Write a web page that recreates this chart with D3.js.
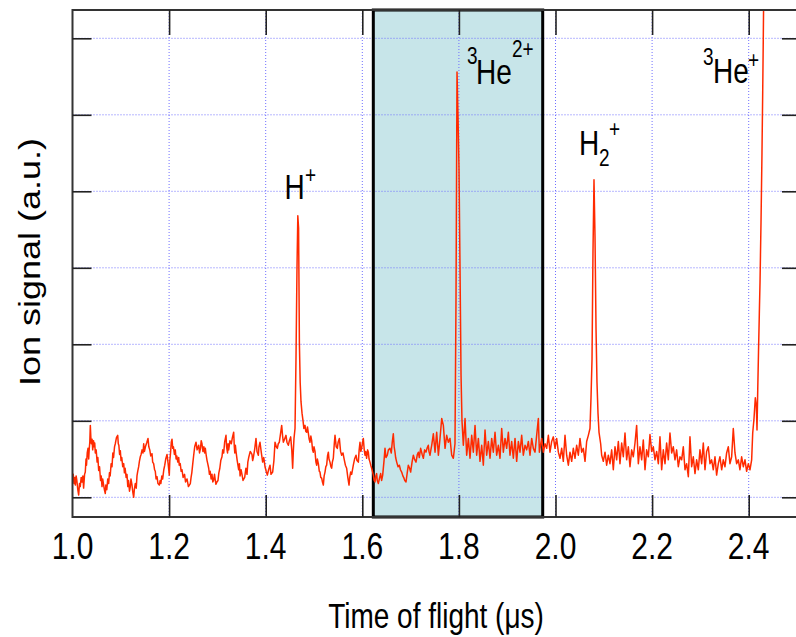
<!DOCTYPE html>
<html>
<head>
<meta charset="utf-8">
<script src="https://cdn.jsdelivr.net/npm/d3@7"></script>
<style>
  html, body { margin: 0; padding: 0; background: #fff; }
  text { font-family: "Liberation Sans", Arial, Helvetica, sans-serif; fill: #000; }
</style>
</head>
<body>
<svg id="chart" width="796" height="637"></svg>
<script>
// Time-of-flight spectrum: [time (µs), ion signal (a.u.)]
const trace = [
  [1.000,0.25],[1.0015,0.30],[1.003,0.18],[1.0045,0.26],[1.0058,0.16],[1.0075,0.28],[1.009,0.22],[1.011,0.10],
  [1.0128,0.03],[1.0145,0.18],[1.016,0.14],[1.018,0.26],[1.0197,0.20],[1.0215,0.28],[1.023,0.12],[1.025,0.30],
  [1.0265,0.33],[1.028,0.50],[1.029,0.42],[1.0305,0.58],[1.0321,0.64],[1.0335,0.50],[1.0345,0.62],[1.0358,0.72],
  [1.0369,0.94],[1.038,0.78],[1.039,0.70],[1.0405,0.76],[1.0418,0.62],[1.0435,0.74],[1.045,0.66],[1.046,0.71],
  [1.0472,0.58],[1.049,0.62],[1.051,0.46],[1.0525,0.52],[1.0542,0.35],[1.056,0.40],[1.058,0.22],[1.0595,0.28],
  [1.0611,0.14],[1.0625,0.24],[1.064,0.18],[1.066,0.10],[1.0679,0.05],[1.069,0.16],[1.071,0.10],[1.073,0.24],
  [1.0749,0.18],[1.0765,0.32],[1.078,0.28],[1.080,0.44],[1.0818,0.40],[1.0835,0.58],[1.085,0.52],[1.087,0.66],
  [1.0886,0.70],[1.091,0.78],[1.0936,0.81],[1.0948,0.70],[1.096,0.68],[1.0975,0.56],[1.099,0.61],[1.1005,0.48],
  [1.102,0.52],[1.104,0.40],[1.106,0.44],[1.1075,0.32],[1.109,0.38],[1.111,0.26],[1.1128,0.30],[1.1145,0.14],
  [1.116,0.22],[1.118,0.08],[1.1197,0.14],[1.121,0.24],[1.123,0.17],[1.125,0.06],[1.1267,0.00],[1.128,0.10],
  [1.130,0.18],[1.132,0.12],[1.1335,0.28],[1.135,0.34],[1.137,0.40],[1.1385,0.47],[1.1404,0.53],[1.142,0.56],
  [1.144,0.62],[1.146,0.58],[1.1474,0.70],[1.149,0.60],[1.151,0.66],[1.154,0.72],[1.1563,0.77],[1.158,0.66],
  [1.160,0.62],[1.162,0.54],[1.1646,0.57],[1.166,0.46],[1.168,0.44],[1.170,0.36],[1.1714,0.34],[1.173,0.24],
  [1.175,0.27],[1.177,0.18],[1.1797,0.16],[1.1815,0.22],[1.183,0.18],[1.185,0.28],[1.1867,0.24],[1.189,0.36],
  [1.191,0.42],[1.193,0.50],[1.1957,0.56],[1.198,0.44],[1.2004,0.29],[1.2015,0.48],[1.203,0.58],[1.2045,0.72],
  [1.206,0.76],[1.2075,0.64],[1.209,0.66],[1.211,0.56],[1.2128,0.62],[1.2145,0.50],[1.216,0.54],[1.218,0.46],
  [1.2199,0.52],[1.221,0.42],[1.223,0.44],[1.225,0.34],[1.2267,0.36],[1.229,0.26],[1.232,0.30],[1.234,0.20],
  [1.2371,0.24],[1.240,0.14],[1.2439,0.18],[1.2455,0.26],[1.247,0.32],[1.249,0.44],[1.2509,0.55],[1.253,0.66],
  [1.2557,0.72],[1.258,0.62],[1.2613,0.68],[1.263,0.58],[1.265,0.64],[1.2665,0.74],[1.2681,0.70],[1.270,0.60],
  [1.272,0.66],[1.2735,0.58],[1.275,0.64],[1.277,0.54],[1.2786,0.48],[1.280,0.44],[1.282,0.38],[1.2835,0.30],
  [1.285,0.34],[1.287,0.24],[1.2888,0.30],[1.2905,0.20],[1.292,0.22],[1.294,0.30],[1.2957,0.22],[1.297,0.17],
  [1.299,0.20],[1.3012,0.22],[1.303,0.32],[1.305,0.38],[1.307,0.48],[1.3095,0.53],[1.311,0.62],[1.313,0.58],
  [1.315,0.72],[1.3178,0.81],[1.319,0.66],[1.321,0.58],[1.322,0.70],[1.3234,0.62],[1.326,0.74],[1.3288,0.70],
  [1.331,0.78],[1.3337,0.85],[1.335,0.66],[1.336,0.58],[1.3372,0.68],[1.3385,0.60],[1.341,0.48],[1.3441,0.36],
  [1.3455,0.44],[1.347,0.28],[1.349,0.36],[1.3509,0.30],[1.353,0.22],[1.3565,0.26],[1.359,0.38],[1.3613,0.30],
  [1.363,0.46],[1.3648,0.52],[1.368,0.60],[1.3716,0.56],
  [1.373,0.48],[1.3744,0.52],[1.377,0.62],[1.3799,0.77],[1.382,0.60],[1.3848,0.55],[1.386,0.66],[1.3882,0.72],
  [1.391,0.58],[1.3937,0.46],[1.396,0.52],[1.3986,0.40],[1.401,0.34],[1.4034,0.29],[1.406,0.36],[1.4089,0.42],
  [1.411,0.30],[1.4144,0.33],[1.417,0.48],[1.4193,0.72],[1.422,0.66],[1.4241,0.64],[1.426,0.70],[1.4282,0.72],
  [1.430,0.80],[1.4331,0.94],[1.435,0.80],[1.4365,0.72],[1.439,0.76],[1.442,0.81],[1.444,0.72],[1.4469,0.68],
  [1.449,0.74],[1.4517,0.79],[1.454,0.62],[1.4558,0.38],[1.4572,0.60],[1.4586,0.77],
  // H+ peak
  [1.4607,0.90],[1.4627,1.80],[1.4648,3.00],[1.4665,3.68],[1.4681,3.52],[1.4698,2.00],[1.4714,1.50],[1.4731,1.25],
  [1.4752,1.10],[1.4773,1.00],
  [1.479,0.90],[1.4814,0.94],[1.483,0.86],[1.4848,0.85],[1.4865,0.92],[1.4883,0.84],[1.490,0.76],[1.4917,0.72],
  [1.4935,0.80],[1.4952,0.74],[1.497,0.62],[1.4986,0.59],[1.500,0.66],[1.5021,0.60],[1.504,0.46],[1.5055,0.42],
  [1.507,0.50],[1.5090,0.44],[1.511,0.34],[1.5124,0.33],[1.514,0.26],[1.5159,0.25],[1.5175,0.20],[1.5193,0.16],
  [1.521,0.28],[1.5228,0.33],[1.5245,0.40],[1.5262,0.42],[1.528,0.54],[1.5297,0.59],[1.531,0.50],[1.5331,0.46],
  [1.535,0.40],[1.5366,0.38],[1.538,0.46],[1.5400,0.51],[1.542,0.70],[1.5435,0.81],[1.546,0.66],[1.5483,0.64],
  [1.550,0.72],[1.5525,0.77],[1.555,0.60],[1.5573,0.55],[1.560,0.58],[1.5621,0.51],[1.565,0.42],[1.5676,0.38],
  [1.570,0.26],[1.5725,0.16],[1.574,0.26],[1.5759,0.33],[1.578,0.30],[1.5814,0.42],[1.584,0.50],[1.5870,0.55],
  [1.589,0.48],[1.5918,0.46],[1.5935,0.62],[1.5952,0.72],[1.597,0.60],[1.5987,0.64],[1.600,0.70],[1.6021,0.77],
  [1.604,0.62],[1.6056,0.55],[1.607,0.60],[1.6090,0.51],[1.611,0.62],[1.6125,0.59],[1.614,0.50],[1.6159,0.46],
  [1.6175,0.42],[1.6194,0.38],[1.621,0.34],[1.6228,0.29],[1.6245,0.22],[1.6263,0.20],[1.628,0.28],[1.6297,0.31],
  [1.631,0.22],[1.6332,0.18],[1.636,0.26],[1.6380,0.31],[1.640,0.22],[1.6422,0.29],[1.645,0.48],[1.6470,0.64],
  [1.649,0.52],[1.6518,0.55],[1.654,0.62],[1.6573,0.64],[1.660,0.58],[1.662,0.72],[1.6642,0.83],[1.666,0.66],
  [1.6677,0.59],[1.669,0.52],[1.6712,0.46],[1.674,0.40],[1.6767,0.42],[1.679,0.36],[1.6815,0.33],[1.684,0.28],
  [1.6863,0.25],[1.688,0.22],[1.6905,0.20],[1.693,0.32],[1.6953,0.42],[1.698,0.38],[1.7001,0.33],[1.703,0.46],
  [1.7057,0.55],[1.708,0.50],[1.7112,0.46],[1.714,0.56],[1.7160,0.59],[1.718,0.52],[1.7208,0.64],[1.724,0.56],
  [1.7264,0.51],[1.729,0.62],[1.7319,0.59],[1.734,0.64],[1.7367,0.68],[1.738,0.60],[1.7402,0.55],[1.742,0.62],
  [1.7437,0.68],[1.7471,0.83],[1.7506,0.59],[1.7540,0.85],[1.7575,0.55],[1.7609,0.77],[1.7644,1.03],[1.7678,0.94],
  [1.7713,0.64],[1.7747,0.81],[1.7782,0.72],[1.7816,0.77],[1.7851,0.55],[1.7885,0.51],[1.7919,0.70],
  // 3He2+ peak
  [1.7940,2.60],[1.7961,5.56],[1.7981,5.00],[1.8002,4.30],[1.8023,3.00],[1.8044,1.60],[1.8064,1.00],
  [1.8092,0.68],[1.8127,1.03],[1.8161,0.55],[1.8196,0.77],[1.8230,0.51],[1.8265,0.81],[1.8299,0.59],[1.8334,0.94],
  [1.8368,0.55],[1.8403,0.77],[1.8437,0.47],[1.8472,0.68],[1.8506,0.42],[1.8541,0.88],[1.8575,0.55],[1.8610,0.73],
  [1.8644,0.51],[1.8679,0.77],[1.8713,0.59],[1.8748,0.85],[1.8782,0.55],[1.8817,0.68],[1.8851,0.51],[1.8886,0.90],
  [1.8920,0.59],[1.8955,0.77],[1.8989,0.64],[1.9024,0.85],[1.9058,0.55],[1.9093,0.73],[1.9127,0.51],[1.9162,0.77],
  [1.9196,0.47],[1.9231,0.73],[1.9265,0.59],[1.9300,0.81],[1.9334,0.55],[1.9369,0.68],[1.9403,0.62],[1.9438,0.73],
  [1.9472,0.55],[1.9507,0.77],[1.9541,0.64],[1.9576,0.59],[1.9610,0.81],[1.9645,1.03],[1.9666,0.59],[1.9714,0.77],
  [1.9748,0.59],[1.9783,0.70],[1.9817,0.64],[1.9852,0.81],[1.9886,0.59],[1.9921,0.73],[1.9955,0.79],[1.9990,0.64],
  [2.0024,0.77],[2.0059,0.59],[2.0093,0.51],[2.0128,0.64],[2.0162,0.47],[2.0197,0.81],[2.0231,0.55],[2.0266,0.42],
  [2.0300,0.59],[2.0335,0.47],[2.0369,0.64],[2.0404,0.51],[2.0438,0.68],[2.0473,0.55],[2.0507,0.77],[2.0542,0.59],
  [2.0576,0.64],[2.0611,0.47],[2.0645,0.73],[2.0680,0.81],[2.0714,0.90],
  // H2+ peak
  [2.0735,1.30],[2.0756,1.80],[2.0776,3.20],[2.0797,4.15],[2.0818,3.40],[2.0839,2.20],[2.0859,1.50],[2.0880,1.10],
  [2.0901,0.85],[2.0935,0.70],[2.0956,0.55],[2.0990,0.47],[2.1025,0.59],[2.1059,0.42],[2.1094,0.55],
  [2.1128,0.44],[2.1163,0.62],[2.1197,0.36],[2.1232,0.66],[2.1266,0.49],[2.1301,0.73],[2.1335,0.44],[2.1370,0.71],
  [2.1404,0.53],[2.1439,0.84],[2.1473,0.49],[2.1508,0.66],[2.1542,0.40],[2.1577,0.62],[2.1611,0.53],[2.1646,0.71],
  [2.1680,0.94],[2.1715,0.44],[2.1749,0.66],[2.1784,0.49],[2.1818,0.75],[2.1853,0.36],[2.1887,0.62],[2.1922,0.53],
  [2.1956,0.82],[2.1991,0.60],[2.2025,0.66],[2.2060,0.49],[2.2094,0.60],[2.2129,0.44],[2.2163,0.79],[2.2198,0.36],
  [2.2232,0.62],[2.2267,0.44],[2.2301,0.71],[2.2336,0.49],[2.2370,0.84],[2.2405,0.58],[2.2439,0.66],[2.2474,0.49],
  [2.2508,0.62],[2.2543,0.40],[2.2577,0.53],[2.2612,0.49],[2.2646,0.66],[2.2681,0.36],[2.2715,0.44],[2.2750,0.27],
  [2.2784,0.79],[2.2819,0.40],[2.2853,0.53],[2.2888,0.31],[2.2922,0.49],[2.2957,0.36],[2.2991,0.62],[2.3026,0.44],
  [2.3060,0.71],[2.3095,0.36],[2.3129,0.60],[2.3164,0.66],[2.3198,0.44],[2.3233,0.49],[2.3267,0.36],[2.3302,0.53],
  [2.3336,0.29],[2.3371,0.44],[2.3405,0.53],[2.3440,0.36],[2.3474,0.49],[2.3509,0.40],[2.3543,0.58],[2.3578,0.66],
  [2.3612,0.44],[2.3647,0.53],[2.3681,0.90],[2.3716,0.58],[2.3750,0.44],[2.3785,0.49],[2.3819,0.36],[2.3854,0.53],
  [2.3888,0.40],[2.3923,0.49],[2.3957,0.34],[2.3992,0.44],[2.4026,0.36],[2.4061,0.49],
  // 3He+ peak (rises beyond the plotted range)
  [2.4083,0.84],[2.4110,1.03],[2.4137,1.30],[2.4158,1.20],[2.4172,0.88],[2.4187,1.40],[2.4203,1.90],[2.4220,2.40],
  [2.4234,2.80],[2.4255,3.60],[2.4275,4.50],[2.4290,5.30],[2.4302,6.00],[2.4317,7.00]
];

const xTickValues = [1.0, 1.2, 1.4, 1.6, 1.8, 2.0, 2.2, 2.4];
const xTickLabels = ["1.0", "1.2", "1.4", "1.6", "1.8", "2.0", "2.2", "2.4"];
const yTickValues = [0, 1, 2, 3, 4, 5, 6];
const gateWindow = [1.6228, 1.9735];   // shaded time gate (µs)

const svg = d3.select("#chart");
const plotL = 72.5, plotR = 797, plotT = 10, plotB = 517;

const x = d3.scaleLinear().domain([1.0, 2.5]).range([plotL, plotR]);
const y = d3.scaleLinear().domain([-0.2575, 6.37]).range([plotB, plotT]);

svg.append("rect").attr("width", 796).attr("height", 637).attr("fill", "#fff");

svg.append("defs").append("clipPath").attr("id", "plotClip")
  .append("rect").attr("x", plotL).attr("y", plotT).attr("width", plotR - plotL).attr("height", plotB - plotT);

// Gate region
svg.append("rect")
  .attr("x", x(gateWindow[0])).attr("y", plotT)
  .attr("width", x(gateWindow[1]) - x(gateWindow[0])).attr("height", plotB - plotT)
  .attr("fill", "#c7e5e9");

// Dotted grid
const inner = xTickValues.filter(d => d > 1.0);
const grid = svg.append("g").attr("stroke", "#6f6fff").attr("stroke-width", 1)
  .attr("stroke-dasharray", "1,2");
grid.selectAll("line.gx").data(inner).join("line")
  .attr("x1", d => x(d)).attr("x2", d => x(d)).attr("y1", plotT).attr("y2", plotB);
grid.selectAll("line.gy").data(yTickValues).join("line")
  .attr("x1", plotL).attr("x2", plotR).attr("y1", d => y(d)).attr("y2", d => y(d));

// Gate outline
svg.append("rect")
  .attr("x", x(gateWindow[0])).attr("y", plotT)
  .attr("width", x(gateWindow[1]) - x(gateWindow[0])).attr("height", plotB - plotT)
  .attr("fill", "none").attr("stroke", "#000").attr("stroke-width", 3);

// Signal trace
const line = d3.line().x(d => x(d[0])).y(d => y(d[1]));
svg.append("path").datum(trace)
  .attr("clip-path", "url(#plotClip)")
  .attr("d", line)
  .attr("fill", "none").attr("stroke", "#ff2a00").attr("stroke-width", 1.5)
  .attr("stroke-linejoin", "round");

// Frame
svg.append("rect").attr("x", plotL).attr("y", plotT).attr("width", plotR - plotL).attr("height", plotB - plotT)
  .attr("fill", "none").attr("stroke", "#333").attr("stroke-width", 2);

// Axes with inward ticks
const axisBottom = d3.axisBottom(x).tickValues(inner).tickSize(-22).tickFormat("");
const axisTop = d3.axisTop(x).tickValues(inner).tickSize(-25).tickFormat("");
const axisLeft = d3.axisLeft(y).tickValues(yTickValues).tickSize(-19).tickFormat("");
const axisRight = d3.axisRight(y).tickValues(yTickValues).tickSize(-15).tickFormat("");
[[axisBottom, `translate(0,${plotB})`], [axisTop, `translate(0,${plotT})`],
 [axisLeft, `translate(${plotL},0)`], [axisRight, `translate(${plotR},0)`]].forEach(([ax, tr]) => {
  const g = svg.append("g").attr("transform", tr).call(ax);
  g.select(".domain").remove();
  g.selectAll(".tick line").attr("stroke", "#222").attr("stroke-width", 1.6);
});

// Text helper: Helvetica-like glyphs drawn slightly tall
function label(g, px, py, str, size, anchor, sy) {
  return g.append("text")
    .attr("transform", `translate(${px},${py}) scale(1,${sy || 1.22})`)
    .attr("font-size", size).attr("text-anchor", anchor || "start").text(str);
}

// Tick labels
xTickValues.forEach((v, i) => label(svg, x(v), 559, xTickLabels[i], 30, "middle"));

// Axis titles
label(svg, 436, 628, "Time of flight (\u03bcs)", 28, "middle");
svg.append("text")
  .attr("transform", "translate(40,262) rotate(-90) scale(1.2,1)")
  .attr("font-size", 30).attr("text-anchor", "middle").text("Ion signal (a.u.)");

// Peak annotations
const ann = svg.append("g");
// H+
label(ann, 284.5, 199, "H", 28, "start", 1.25);
label(ann, 305, 183, "+", 19, "start", 1.25);
// 3He2+
label(ann, 467, 64, "3", 19, "start", 1.25);
label(ann, 476, 84, "He", 28, "start", 1.25);
label(ann, 512, 57, "2+", 19, "start", 1.25);
// H2+
label(ann, 579, 155, "H", 28, "start", 1.25);
label(ann, 599, 166, "2", 19, "start", 1.25);
label(ann, 609, 137, "+", 19, "start", 1.25);
// 3He+
label(ann, 703, 65, "3", 19, "start", 1.25);
label(ann, 713, 83, "He", 28, "start", 1.25);
label(ann, 748, 68, "+", 19, "start", 1.25);
</script>
</body>
</html>
